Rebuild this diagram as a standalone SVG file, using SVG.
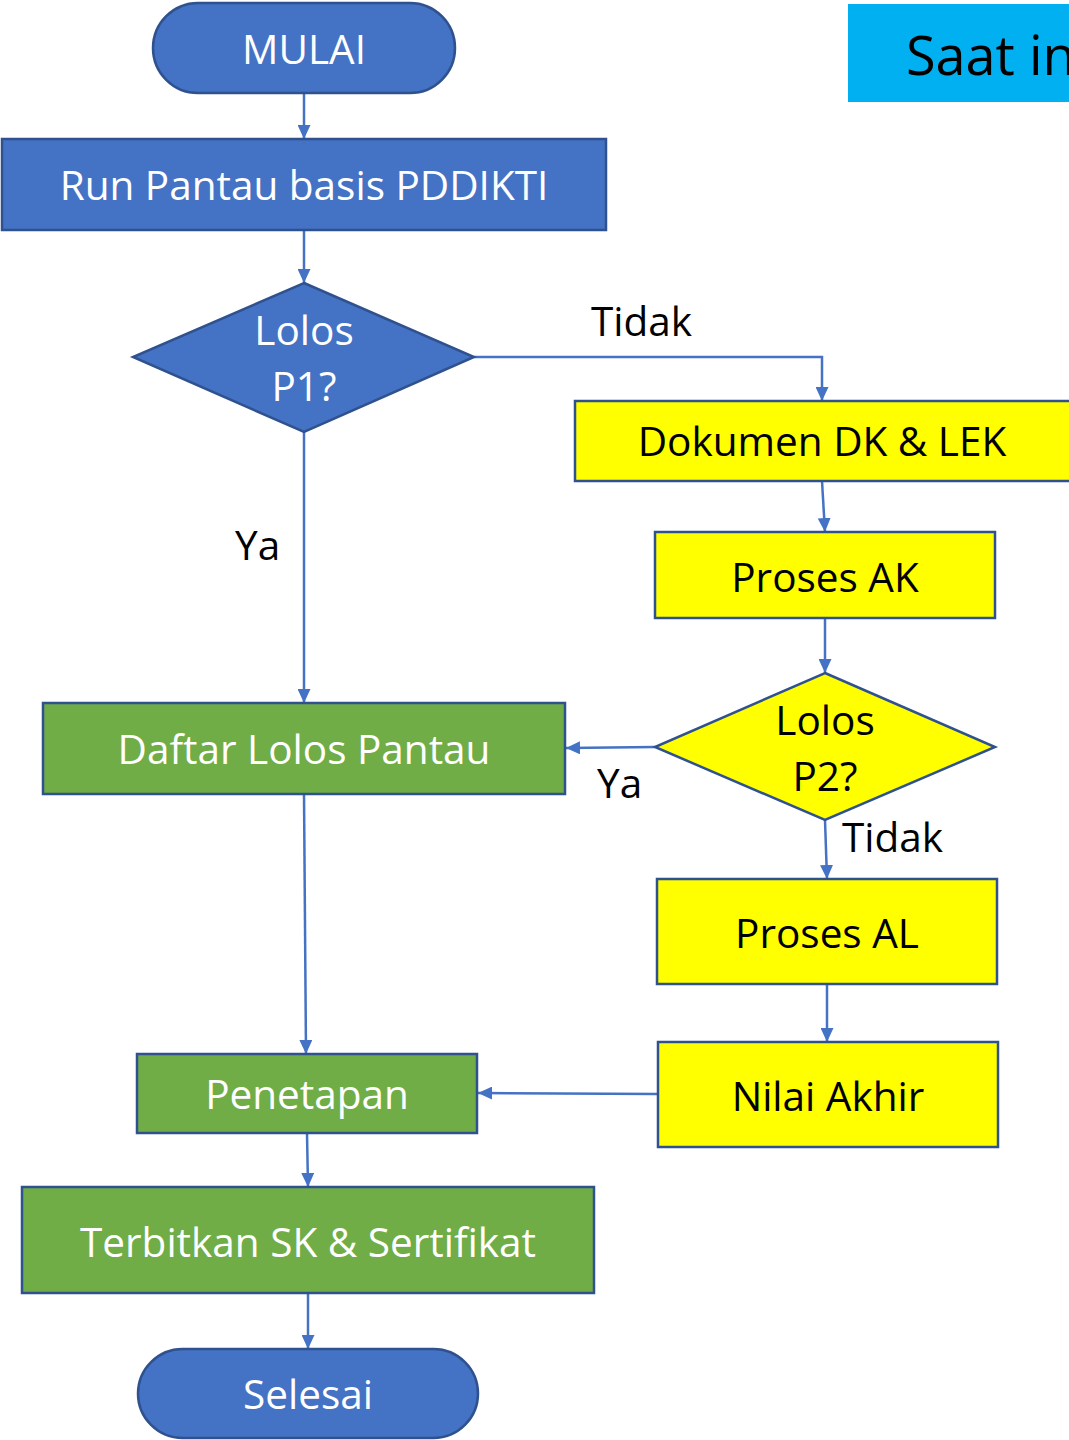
<svg xmlns="http://www.w3.org/2000/svg" width="1069" height="1440" viewBox="0 0 1069 1440">
<defs>
<marker id="arr" viewBox="0 0 10 10" refX="10" refY="5" markerWidth="14" markerHeight="13" orient="auto" markerUnits="userSpaceOnUse" preserveAspectRatio="none">
<path d="M0,0 L10,5 L0,10 z" fill="#4472C4"/>
</marker>
<style>
.blue{fill:#4472C4;stroke:#2F528F;stroke-width:2.5}
.yel{fill:#FFFF00;stroke:#2F528F;stroke-width:2.5}
.grn{fill:#70AD47;stroke:#2F528F;stroke-width:2.5}
.t{font-family:"Open Sans","Noto Sans",sans-serif;font-size:40.5px;text-anchor:middle}
.w{fill:#FFFFFF}
.k{fill:#000000}
.lbl{font-family:"Open Sans","Noto Sans",sans-serif;font-size:40.5px;fill:#000000}
.c{fill:none;stroke:#4472C4;stroke-width:2.5}
</style>
</defs>
<g id="connectors">
<path class="c" d="M304,93 V139" marker-end="url(#arr)"/>
<path class="c" d="M304,230 V283" marker-end="url(#arr)"/>
<path class="c" d="M474,357 H822 V401" marker-end="url(#arr)"/>
<path class="c" d="M822,481 L825,532" marker-end="url(#arr)"/>
<path class="c" d="M825,618 V673" marker-end="url(#arr)"/>
<path class="c" d="M655,747 L566,748" marker-end="url(#arr)"/>
<path class="c" d="M825,820 L827,879" marker-end="url(#arr)"/>
<path class="c" d="M827,984 V1042" marker-end="url(#arr)"/>
<path class="c" d="M658,1094 L478,1093" marker-end="url(#arr)"/>
<path class="c" d="M304,432 V703" marker-end="url(#arr)"/>
<path class="c" d="M304,794 L306,1054" marker-end="url(#arr)"/>
<path class="c" d="M307,1133 L308,1187" marker-end="url(#arr)"/>
<path class="c" d="M308,1293 V1349" marker-end="url(#arr)"/>
</g>
<g id="labels">
<text class="lbl" x="591" y="336">Tidak</text>
<text class="lbl" x="235" y="560">Ya</text>
<text class="lbl" x="597" y="798">Ya</text>
<text class="lbl" x="842" y="852">Tidak</text>
</g>
<g id="saat-ini">
<rect x="848" y="4" width="230" height="98" fill="#00B0F0"/>
<text x="906" y="75" font-family="Open Sans, Noto Sans, sans-serif" font-size="54" fill="#000000">Saat ini</text>
</g>
<g id="mulai">
<rect class="blue" x="153" y="3" width="302" height="90" rx="45" ry="45"/>
<text class="t w" x="304" y="64">MULAI</text>
</g>
<g id="run-pantau">
<rect class="blue" x="2" y="139" width="604" height="91"/>
<text class="t w" x="304" y="200">Run Pantau basis PDDIKTI</text>
</g>
<g id="lolos-p1">
<polygon class="blue" points="304,283 474,357 304,432 133,357"/>
<text class="t w" x="304" y="345">Lolos</text>
<text class="t w" x="304" y="401">P1?</text>
</g>
<g id="dokumen">
<rect class="yel" x="575" y="401" width="500" height="80"/>
<text class="t k" x="822" y="456">Dokumen DK &amp; LEK</text>
</g>
<g id="proses-ak">
<rect class="yel" x="655" y="532" width="340" height="86"/>
<text class="t k" x="825" y="592">Proses AK</text>
</g>
<g id="lolos-p2">
<polygon class="yel" points="825,673 995,747 825,820 655,747"/>
<text class="t k" x="825" y="735">Lolos</text>
<text class="t k" x="825" y="791">P2?</text>
</g>
<g id="proses-al">
<rect class="yel" x="657" y="879" width="340" height="105"/>
<text class="t k" x="827" y="948">Proses AL</text>
</g>
<g id="nilai-akhir">
<rect class="yel" x="658" y="1042" width="340" height="105"/>
<text class="t k" x="828" y="1111">Nilai Akhir</text>
</g>
<g id="daftar-lolos">
<rect class="grn" x="43" y="703" width="522" height="91"/>
<text class="t w" x="304" y="764">Daftar Lolos Pantau</text>
</g>
<g id="penetapan">
<rect class="grn" x="137" y="1054" width="340" height="79"/>
<text class="t w" x="307" y="1109">Penetapan</text>
</g>
<g id="terbitkan">
<rect class="grn" x="22" y="1187" width="572" height="106"/>
<text class="t w" x="308" y="1257">Terbitkan SK &amp; Sertifikat</text>
</g>
<g id="selesai">
<rect class="blue" x="138" y="1349" width="340" height="89" rx="44.5" ry="44.5"/>
<text class="t w" x="308" y="1409">Selesai</text>
</g>
</svg>
